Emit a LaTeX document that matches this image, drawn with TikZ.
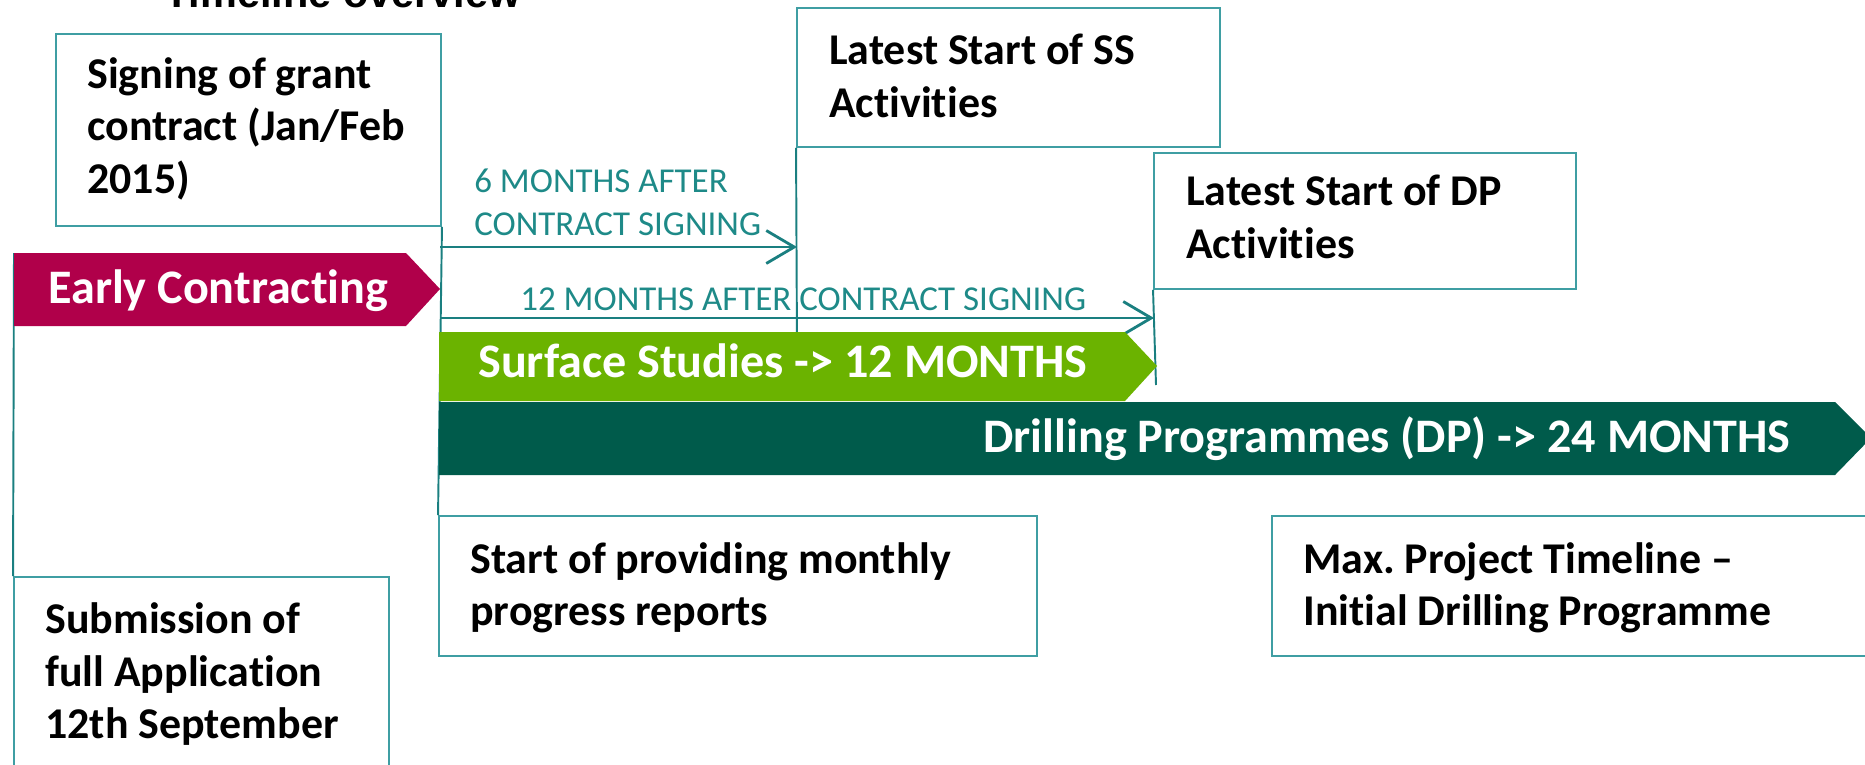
\documentclass[tikz,border=0pt]{standalone}
\usepackage{fontspec}
\setmainfont{Carlito}[Ligatures=NoCommon]
\newfontfamily\titlefont{Liberation Sans}
\usetikzlibrary{arrows.meta,fit}
\definecolor{crim}{HTML}{B0004A}
\definecolor{lgreen}{HTML}{6BB300}
\definecolor{dgreen}{HTML}{005B4B}
\definecolor{boxteal}{HTML}{3F9EA3}
\definecolor{lineteal}{HTML}{1A7F80}
\definecolor{lblteal}{HTML}{1E8A88}
\frenchspacing
\begin{document}
\begin{tikzpicture}[x=0.02cm,y=-0.02cm,
  box/.style={draw=boxteal,line width=1.1pt,inner sep=0pt},
  btxt/.style={anchor=base west,inner sep=0pt,align=left,
    font=\fontsize{25}{29.6}\selectfont\bfseries},
  ltxt/.style={anchor=base west,inner sep=0pt,align=left,text=lblteal,
    font=\fontsize{19.9}{24}\selectfont},
  bartxt/.style={anchor=base west,inner sep=0pt,text=white,
    font=\fontsize{27.4}{32}\selectfont\bfseries},
  vline/.style={draw=lineteal,line width=1.1pt},
  tarrow/.style={draw=lineteal,line width=1.6pt,
    -{Straight Barb[length=0.56cm,width=0.66cm,line width=1.6pt]}}]
\clip (0,0) rectangle (1865,764);
% title (cut off)
\node[anchor=base west,inner sep=0pt,font=\titlefont\bfseries\fontsize{23.6}{28}\selectfont] (title) at (164,8) {Timeline overview};
% boxes
\node[box,fit={(56,34) (441,226)}] (sign) {};
\node[box,fit={(797,8) (1220,147)}] (ss) {};
\node[box,fit={(1154,153) (1576,289)}] (dp) {};
\node[box,fit={(439,516) (1037,656)}] (start) {};
\node[box,fit={(1272,516) (1880,656)}] (max) {};
\node[box,fit={(14,577) (389,790)}] (sub) {};
% connectors (vertical)
\coordinate (eTop) at (14,253);
\coordinate (ssEnd) at (797,350);
\coordinate (dpEnd) at (1156,385);
\draw[vline] (eTop) -- (sub.north west);
\draw[vline] (sign.south east) -- (start.north west);
\draw[vline] (ss.south west) -- (ssEnd);
\draw[vline] (dp.south west) -- (dpEnd);
% timing arrows
\coordinate (a6s) at (440,247);
\coordinate (a6e) at (797,247);
\coordinate (a12s) at (440,318);
\coordinate (a12e) at (1154,318);
\draw[tarrow] (a6s) -- (a6e);
\draw[tarrow] (a12s) -- (a12e);
\node[ltxt] (l6) at (474,235) {6 MONTHS AFTER\\CONTRACT SIGNING};
\node[ltxt] (l12) at (520,310) {12 MONTHS AFTER CONTRACT SIGNING};
% bars
\fill[crim] (14,253) -- (406,253) -- (440,289) -- (406,326) -- (14,326) -- cycle;
\fill[lgreen] (439,332) -- (1125,332) -- (1157,366) -- (1125,401) -- (439,401) -- cycle;
\fill[dgreen] (439,402) -- (1835,402) -- (1871,438) -- (1835,475) -- (439,475) -- cycle;
\node[bartxt] (early) at (48,303) {Early Contracting};
\node[bartxt] (surf) at (478,377) {Surface Studies -> 12 MONTHS};
\node[bartxt] (drill) at (983,452) {Drilling Programmes (DP) -> 24 MONTHS};
% box texts (anchor = baseline of last line)
\node[btxt] (signT) at (87,193) {Signing of grant\\contract (Jan/Feb\\2015)};
\node[btxt] (ssT) at (829,117) {Latest Start of SS\\Activities};
\node[btxt] (dpT) at (1186,258) {Latest Start of DP\\Activities};
\node[btxt] (startT) at (470,625) {Start of providing monthly\\progress reports};
\node[btxt] (maxT) at (1303,625) {Max. Project Timeline --\\Initial Drilling Programme};
\node[btxt] (subT) at (45,738) {Submission of\\full Application\\12th September};
\end{tikzpicture}
\end{document}
